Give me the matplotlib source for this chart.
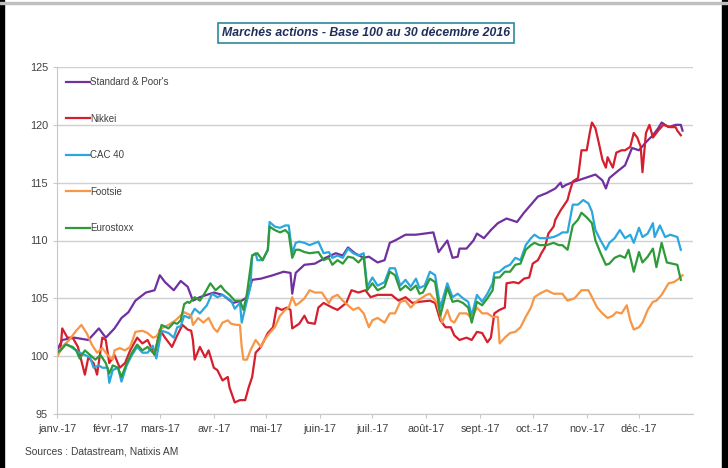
import pandas as pd
import matplotlib
matplotlib.use("Agg")
import matplotlib.pyplot as plt
from matplotlib.patches import Rectangle

# --- données (jours depuis le 1er janvier 2017, base 100) ---
sp_jours = [0, 3, 10, 18, 24, 28, 33, 37, 41, 45, 51, 56, 59, 62, 67, 71, 75, 78, 82, 90, 95,
            101, 106, 109, 112, 117, 124, 130, 134, 135, 137, 142, 148, 154, 160, 164, 167, 171,
            176, 179, 184, 188, 191, 194, 200, 206, 211, 216, 219, 224, 227, 230, 231, 235, 239,
            241, 245, 249, 253, 258, 264, 268, 272, 276, 281, 286, 289, 290, 292, 297, 303, 309,
            313, 315, 317, 321, 326, 330, 334, 338, 342, 345, 347, 351, 355, 358, 359]
sp_vals = [100.5, 101.4, 101.6, 101.4, 102.4, 101.6, 102.4, 103.3, 103.8, 104.8, 105.5, 105.7,
           107.0, 106.4, 105.7, 106.5, 106.0, 104.8, 105.1, 105.5, 105.3, 104.6, 104.8, 105.1,
           106.6, 106.7, 107.0, 107.3, 107.2, 105.4, 107.2, 107.9, 108.0, 108.5, 108.9, 108.7,
           109.4, 108.9, 108.5, 108.6, 108.1, 108.3, 109.8, 110.0, 110.5, 110.5, 110.6, 110.7,
           109.0, 110.0, 108.5, 108.6, 109.3, 109.3, 110.0, 110.6, 110.2, 110.9, 111.5, 111.9,
           111.6, 112.4, 113.1, 113.8, 114.1, 114.5, 115.0, 114.6, 114.8, 115.1, 115.4, 115.7,
           115.2, 114.5, 115.4, 115.9, 116.5, 118.0, 117.8, 118.5, 119.1, 119.7, 120.2, 119.8,
           120.0, 120.0, 119.5]

nikkei_jours = [0, 2, 3, 6, 9, 12, 16, 18, 21, 23, 26, 28, 30, 33, 36, 39, 42, 46, 49, 52, 56,
                59, 62, 66, 69, 72, 75, 77, 78, 79, 82, 85, 87, 90, 92, 95, 98, 99, 102, 105, 108,
                110, 112, 114, 117, 119, 121, 124, 126, 129, 132, 134, 135, 139, 142, 144, 148,
                150, 153, 158, 161, 166, 169, 173, 177, 180, 184, 188, 192, 196, 200, 204, 208,
                214, 217, 220, 223, 226, 228, 231, 235, 238, 241, 244, 247, 249, 251, 254, 257,
                258, 262, 265, 268, 271, 273, 276, 278, 280, 282, 285, 286, 289, 293, 294, 296,
                299, 301, 304, 306, 307, 309, 311, 313, 315, 316, 319, 321, 324, 326, 329, 331,
                333, 335, 336, 338, 340, 342, 345, 348, 352, 355, 356, 358]
nikkei_vals = [100.3, 100.5, 102.4, 101.6, 101.6, 100.8, 98.4, 99.9, 99.4, 98.4, 101.6, 101.4,
               99.4, 100.1, 99.0, 99.4, 100.5, 101.6, 101.1, 101.4, 100.1, 102.3, 101.6, 100.8,
               101.8, 102.7, 102.3, 102.2, 101.4, 99.7, 100.8, 99.9, 100.5, 99.0, 98.8, 97.9,
               98.2, 97.3, 96.0, 96.2, 96.2, 97.3, 98.2, 100.3, 100.8, 101.4, 102.0, 102.5,
               104.2, 104.0, 104.2, 104.0, 102.4, 102.8, 103.5, 102.9, 102.8, 104.2, 104.6,
               104.2, 104.0, 104.6, 105.7, 105.5, 105.7, 105.1, 105.3, 105.3, 105.3, 104.8,
               105.1, 104.6, 104.7, 104.8, 104.6, 103.1, 102.5, 102.5, 101.8, 101.4, 101.6,
               101.4, 102.1, 102.0, 101.2, 101.6, 103.7, 104.0, 104.2, 106.3, 106.4, 106.3,
               106.7, 106.8, 108.0, 108.3, 108.9, 109.4, 110.6, 111.2, 111.8, 112.6, 113.5,
               114.1, 115.1, 115.4, 117.8, 117.8, 119.5, 120.2, 119.7, 118.4, 117.0, 116.3,
               117.2, 116.3, 117.6, 117.8, 117.8, 118.1, 119.3, 118.9, 118.1, 115.9, 119.3,
               120.0, 118.9, 119.5, 120.0, 119.8, 119.8, 119.5, 119.1]

cac_jours = [0, 2, 5, 9, 13, 16, 19, 21, 24, 26, 29, 30, 32, 35, 37, 40, 43, 46, 49, 52, 55, 57,
             60, 64, 67, 69, 71, 73, 76, 79, 82, 86, 89, 92, 95, 98, 100, 102, 105, 106, 109, 111,
             112, 114, 115, 118, 121, 122, 125, 128, 131, 133, 135, 137, 139, 142, 145, 150, 153,
             156, 158, 161, 164, 167, 170, 173, 176, 178, 181, 184, 188, 191, 194, 197, 200, 203,
             206, 208, 211, 214, 217, 220, 224, 227, 230, 233, 236, 238, 241, 244, 247, 250, 251,
             254, 257, 260, 263, 266, 269, 272, 274, 277, 281, 285, 288, 290, 293, 296, 299, 302,
             305, 307, 309, 312, 315, 317, 320, 323, 326, 329, 331, 334, 336, 339, 342, 343, 346,
             349, 352, 356, 358]
cac_vals = [100.3, 100.5, 101.1, 100.7, 100.3, 100.1, 99.9, 99.0, 99.2, 99.0, 99.0, 97.7, 98.8,
            99.0, 97.8, 99.2, 100.1, 100.8, 100.3, 100.3, 100.9, 99.8, 102.2, 102.0, 101.6,
            102.5, 102.6, 103.5, 103.3, 104.1, 103.7, 104.4, 105.4, 105.1, 105.3, 105.0, 104.8,
            104.1, 104.6, 102.9, 104.8, 106.0, 108.7, 108.9, 108.3, 108.3, 109.2, 111.6, 111.2,
            111.1, 111.3, 111.3, 108.9, 109.8, 109.9, 109.8, 109.6, 109.9, 108.9, 109.0, 108.5,
            108.7, 108.5, 109.3, 108.9, 108.7, 108.9, 106.0, 106.8, 106.1, 106.4, 107.6, 107.6,
            106.1, 106.6, 106.0, 106.7, 105.9, 106.1, 107.3, 107.0, 104.2, 106.3, 105.1, 105.4,
            105.0, 104.7, 103.5, 105.3, 104.7, 105.4, 106.3, 107.2, 107.3, 107.7, 107.9, 108.5,
            108.3, 109.6, 110.2, 110.5, 110.2, 110.2, 110.3, 110.5, 110.7, 110.7, 113.1, 113.1,
            113.5, 113.2, 112.5, 110.9, 110.0, 109.2, 109.8, 110.2, 110.9, 110.2, 110.5, 109.8,
            111.1, 110.3, 110.6, 111.5, 110.3, 111.3, 110.3, 110.5, 110.3, 109.2]

footsie_jours = [0, 3, 7, 11, 14, 17, 20, 23, 26, 29, 32, 33, 36, 39, 42, 45, 49, 52, 55, 57, 60,
                 64, 68, 73, 77, 78, 81, 84, 87, 90, 92, 95, 98, 100, 103, 105, 106, 107, 109, 111,
                 114, 117, 119, 122, 125, 128, 131, 133, 135, 137, 139, 142, 145, 148, 152, 156,
                 158, 161, 164, 167, 170, 173, 176, 179, 181, 184, 188, 191, 194, 197, 200, 203,
                 206, 210, 212, 214, 218, 221, 224, 226, 228, 231, 235, 238, 241, 244, 247, 250,
                 253, 254, 257, 260, 263, 266, 269, 272, 274, 277, 281, 285, 288, 290, 293, 297,
                 301, 305, 307, 310, 313, 316, 319, 321, 324, 327, 329, 331, 334, 336, 339, 342,
                 344, 347, 351, 354, 356, 359]
footsie_vals = [99.9, 100.8, 101.4, 102.2, 102.7, 102.0, 101.0, 100.3, 100.7, 100.1, 99.7, 100.5,
                100.7, 100.5, 100.8, 102.1, 102.2, 102.0, 101.6, 101.7, 102.4, 102.7, 103.1,
                103.8, 103.5, 102.7, 103.3, 102.9, 103.3, 102.4, 102.1, 102.9, 103.1, 102.8,
                102.7, 102.7, 100.8, 99.7, 99.7, 100.5, 101.4, 100.8, 101.4, 102.0, 102.5, 103.5,
                104.0, 104.2, 105.1, 104.4, 104.6, 105.0, 105.7, 105.5, 105.5, 104.6, 105.1,
                105.3, 104.8, 104.4, 104.0, 104.2, 103.7, 102.5, 103.1, 103.3, 102.9, 103.7,
                103.7, 104.7, 104.8, 104.2, 104.7, 105.1, 105.3, 105.4, 104.6, 102.9, 104.0,
                103.1, 102.9, 103.7, 103.7, 103.3, 104.2, 103.7, 103.7, 103.4, 103.4, 101.1,
                101.6, 102.0, 102.1, 102.5, 103.4, 104.2, 105.1, 105.4, 105.7, 105.4, 105.4,
                105.4, 104.8, 105.0, 105.7, 105.7, 105.1, 104.2, 103.7, 103.3, 103.5, 103.8,
                103.7, 104.4, 103.1, 102.3, 102.5, 102.9, 104.0, 104.7, 104.8, 105.3, 106.3,
                106.4, 106.6, 107.0]

euro_jours = [0, 2, 5, 9, 11, 13, 16, 19, 22, 25, 28, 30, 32, 35, 37, 40, 43, 46, 49, 52, 55, 56,
              60, 64, 67, 69, 71, 73, 75, 76, 79, 82, 85, 88, 91, 94, 96, 99, 102, 105, 107, 109,
              112, 115, 118, 121, 122, 125, 128, 131, 133, 135, 137, 139, 142, 145, 150, 153, 156,
              158, 161, 164, 167, 170, 173, 176, 178, 181, 184, 188, 191, 194, 197, 200, 203, 206,
              208, 210, 214, 217, 220, 224, 227, 230, 233, 236, 238, 241, 244, 247, 250, 251, 254,
              257, 260, 263, 266, 269, 272, 274, 277, 281, 285, 288, 290, 293, 296, 299, 301, 304,
              307, 309, 312, 315, 317, 320, 323, 326, 328, 331, 334, 336, 339, 342, 344, 347, 350,
              353, 356, 358]
euro_vals = [100.3, 100.5, 101.0, 100.8, 100.5, 99.8, 100.5, 100.1, 99.7, 100.1, 99.4, 98.5,
             99.2, 99.0, 98.2, 99.4, 100.3, 101.0, 100.5, 100.8, 100.3, 100.2, 102.7, 102.4,
             102.9, 102.8, 103.1, 104.5, 104.7, 104.6, 105.1, 104.8, 105.5, 106.3, 105.7, 106.1,
             105.7, 105.3, 104.8, 104.8, 104.0, 105.4, 108.7, 108.9, 108.3, 109.2, 111.2, 110.9,
             110.7, 110.9, 110.6, 108.5, 109.2, 109.2, 109.0, 108.9, 109.0, 108.3, 108.5, 107.9,
             108.3, 108.0, 108.6, 108.5, 108.1, 108.6, 105.7, 106.3, 105.7, 106.0, 107.3, 107.0,
             105.7, 106.1, 105.7, 106.1, 105.4, 105.5, 106.7, 106.4, 103.5, 105.9, 104.7, 104.8,
             104.6, 104.2, 102.9, 104.7, 104.4, 105.0, 105.7, 106.8, 106.8, 107.3, 107.3, 107.9,
             108.0, 109.2, 109.6, 109.8, 109.6, 109.6, 109.8, 109.6, 109.6, 109.2, 111.3, 111.8,
             112.4, 112.0, 111.5, 110.0, 108.9, 107.9, 108.0, 108.5, 108.7, 108.5, 109.2, 107.3,
             109.0, 108.1, 108.6, 109.3, 107.7, 109.8, 108.1, 108.0, 107.9, 106.6]

series = [
    ("Standard & Poor's", sp_jours, sp_vals, "#7030A0"),
    ("Nikkei", nikkei_jours, nikkei_vals, "#D51F2E"),
    ("CAC 40", cac_jours, cac_vals, "#2AA7DF"),
    ("Footsie", footsie_jours, footsie_vals, "#F79646"),
    ("Eurostoxx", euro_jours, euro_vals, "#2E9A3A"),
]

mois = ["janv.-17", "févr.-17", "mars-17", "avr.-17", "mai-17", "juin-17",
        "juil.-17", "août-17", "sept.-17", "oct.-17", "nov.-17", "déc.-17"]

plt.rcParams['font.family'] = ['Liberation Sans', 'DejaVu Sans']

debut = pd.Timestamp("2017-01-01")

fig = plt.figure(figsize=(7.28, 4.68), dpi=100)
fig.patch.set_facecolor("white")

# cadre de l'image
fig.patches.append(Rectangle((0, 0), 4 / 728, 1, transform=fig.transFigure, color="black", zorder=0))
fig.patches.append(Rectangle((722 / 728, 0), 6 / 728, 1, transform=fig.transFigure, color="black", zorder=0))
fig.patches.append(Rectangle((0, 1 - 4 / 468), 1, 2 / 468, transform=fig.transFigure, color="#BFBFBF", zorder=0))

ax = fig.add_axes([57 / 728, 1 - 414 / 468, 636 / 728, 347 / 468])

for nom, jours, vals, couleur in series:
    dates = debut + pd.to_timedelta(jours, unit="D")
    ax.plot(dates, vals, color=couleur, lw=1.6, label=nom)

ax.set_ylim(95, 125)
ax.set_yticks([95, 100, 105, 110, 115, 120, 125])
ax.set_xlim(debut, pd.Timestamp("2018-01-01"))
ticks = pd.date_range("2017-01-01", periods=12, freq="MS")
ax.set_xticks(ticks)
ax.set_xticklabels(mois)

ax.grid(axis="y", color="#D0D0D0", lw=1.0)
ax.set_axisbelow(True)
for s in ["top", "right"]:
    ax.spines[s].set_visible(False)
ax.spines["left"].set_color("#C8C8C8")
ax.spines["bottom"].set_color("#C8C8C8")
ax.tick_params(axis="both", colors="#C8C8C8", labelcolor="#404040", labelsize=7.8, length=3)
ax.tick_params(axis="x", pad=4)

leg = ax.legend(loc="upper left", bbox_to_anchor=(9 / 636, 1 - 10 / 347), frameon=False,
                fontsize=7, handlelength=2.45, handletextpad=0.0, labelspacing=2.73,
                borderpad=0, borderaxespad=0)
for t in leg.get_texts():
    t.set_color("#404040")

fig.text(366 / 728, 1 - 33 / 468, "Marchés actions - Base 100 au 30 décembre 2016",
         ha="center", va="center", fontsize=8.8, fontweight="bold", fontstyle="italic",
         color="#1F2F5A",
         bbox=dict(boxstyle="square,pad=0.3", facecolor="white", edgecolor="#2B8A9C", lw=1.2))

fig.text(25 / 728, 1 - 452 / 468, "Sources : Datastream, Natixis AM", ha="left", va="center",
         fontsize=7.4, color="#404040")

fig.savefig("out.png", dpi=100, facecolor="white")
